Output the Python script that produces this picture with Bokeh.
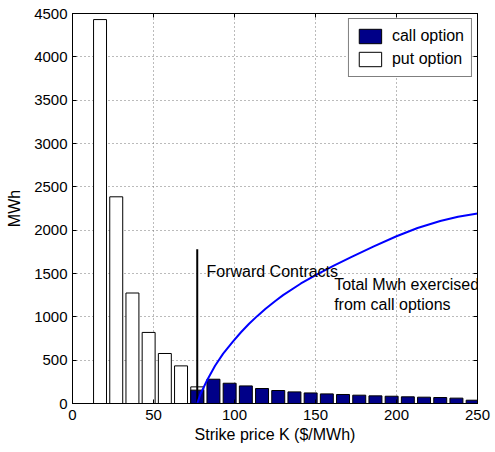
from bokeh.plotting import figure
from bokeh.models import Range1d, LinearAxis, Legend, LegendItem, FixedTicker, Label
from bokeh.embed import file_html
from bokeh.resources import INLINE

# ---- data ----
put_strikes = [17, 27, 37, 47, 57, 67, 77]
put_mwh = [4430, 2385, 1275, 820, 577, 434, 192]

call_strikes = [77, 87, 97, 107, 117, 127, 137, 147, 157, 167, 177, 187, 197, 207, 217, 227, 237, 247]
call_mwh = [154, 280, 234, 203, 173, 150, 134, 122, 111, 104, 96, 88, 84, 77, 73, 69, 62, 38]

curve_k = [77, 79, 83, 88, 93, 99, 104, 109, 114, 119, 125, 130, 141, 151, 161, 172,
           186, 200, 213, 227, 238, 250]
curve_mwh = [0, 110, 265, 435, 575, 715, 822, 920, 1008, 1090, 1180, 1250, 1385, 1490, 1588, 1690,
             1812, 1930, 2025, 2105, 2155, 2192]

forward_k = [77, 77]
forward_mwh = [0, 1780]

x_ticks = [0, 50, 100, 150, 200, 250]
y_ticks = [0, 500, 1000, 1500, 2000, 2500, 3000, 3500, 4000, 4500]

FONT = "Liberation Sans"
NAVY = "#000088"

p = figure(frame_width=405, frame_height=390,
           min_border_left=72, min_border_right=18, min_border_top=13, min_border_bottom=49,
           x_range=Range1d(0, 250), y_range=Range1d(0, 4500),
           output_backend="svg", toolbar_location=None,
           x_axis_label="Strike price K ($/MWh)", y_axis_label="MWh")
p.background_fill_color = "white"
p.border_fill_color = "white"
p.outline_line_color = "black"
p.outline_line_width = 1

put_r = p.vbar(x=put_strikes, top=put_mwh, width=8, bottom=0,
               fill_color="white", line_color="black", line_width=1)
call_r = p.vbar(x=call_strikes, top=call_mwh, width=8, bottom=0,
                fill_color=NAVY, line_color="black", line_width=1)

p.line(forward_k, forward_mwh, line_color="black", line_width=2)
p.line(curve_k, curve_mwh, line_color="#0000FF", line_width=2, line_join="round")

for ax, ticks in ((p.xaxis[0], x_ticks), (p.yaxis[0], y_ticks)):
    ax.ticker = FixedTicker(ticks=ticks)
    ax.major_tick_in = 4
    ax.major_tick_out = 0
    ax.minor_tick_in = 0
    ax.minor_tick_out = 0
    ax.axis_line_color = "black"
    ax.major_tick_line_color = "black"
    ax.major_label_text_font = FONT
    ax.major_label_text_font_size = "15px"
    ax.major_label_text_color = "black"
    ax.axis_label_text_font = FONT
    ax.axis_label_text_font_size = "16px"
    ax.axis_label_text_font_style = "normal"
    ax.axis_label_text_color = "black"

p.xaxis[0].major_label_standoff = 6
p.xaxis[0].axis_label_standoff = 3
p.yaxis[0].major_label_standoff = 5
p.yaxis[0].axis_label_standoff = 8

# mirrored ticks on top and right (no labels)
top_ax = LinearAxis(ticker=FixedTicker(ticks=x_ticks), major_tick_in=4, major_tick_out=0,
                    minor_tick_in=0, minor_tick_out=0, axis_line_color="black",
                    major_label_overrides={t: "" for t in x_ticks})
right_ax = LinearAxis(ticker=FixedTicker(ticks=y_ticks), major_tick_in=4, major_tick_out=0,
                      minor_tick_in=0, minor_tick_out=0, axis_line_color="black",
                      major_label_overrides={t: "" for t in y_ticks})
p.add_layout(top_ax, "above")
p.add_layout(right_ax, "right")

p.xgrid.ticker = FixedTicker(ticks=x_ticks)
p.ygrid.ticker = FixedTicker(ticks=y_ticks)
for g in (p.xgrid[0], p.ygrid[0]):
    g.grid_line_color = "#777777"
    g.grid_line_dash = "1 3"
    g.grid_line_width = 1

p.add_layout(Label(x=82.7, y=1518, text="Forward Contracts", text_font=FONT,
                   text_font_size="16px", text_color="black", text_baseline="alphabetic"))
p.add_layout(Label(x=161.5, y=1375, text="Total Mwh exercised", text_font=FONT,
                   text_font_size="16px", text_color="black", text_baseline="alphabetic"))
p.add_layout(Label(x=161.5, y=1143, text="from call options", text_font=FONT,
                   text_font_size="16px", text_color="black", text_baseline="alphabetic"))

legend = Legend(items=[LegendItem(label="call option", renderers=[call_r]),
                       LegendItem(label="put option", renderers=[put_r])],
                location="top_right")
legend.border_line_color = "black"
legend.border_line_width = 1
legend.background_fill_color = "white"
legend.background_fill_alpha = 1
legend.label_text_font = FONT
legend.label_text_font_size = "16px"
legend.label_text_color = "black"
legend.glyph_width = 28
legend.glyph_height = 18
legend.label_height = 20
legend.label_standoff = 8
legend.spacing = 3
legend.padding = 7
legend.margin = 5
p.add_layout(legend, "center")

open("out.html", "w").write(file_html(p, INLINE))
